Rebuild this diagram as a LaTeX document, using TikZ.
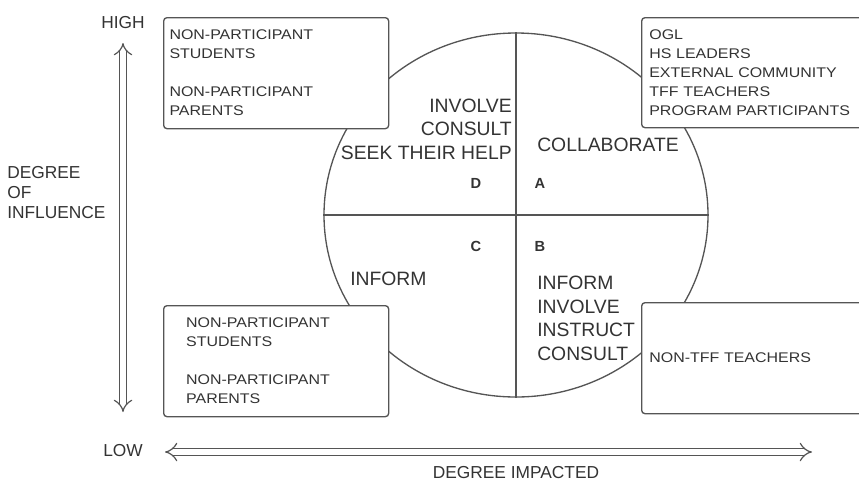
\documentclass[tikz,border=0pt]{standalone}
\usepackage{fontspec}
\setmainfont{Liberation Sans}
\newfontfamily\groupfont[FakeStretch=1.14]{Liberation Sans}
\usetikzlibrary{positioning, shapes.geometric, arrows.meta}
\definecolor{linegrey}{HTML}{555555}
\definecolor{textgrey}{HTML}{333333}

\begin{document}
\begin{tikzpicture}[x=0.75pt, y=-0.75pt,
                group/.style={draw=linegrey, line width=1pt, fill=white, rectangle, rounded corners=2.5pt, anchor=north west, align=left, text=textgrey, font=\groupfont\fontsize{10.5}{14.25}\selectfont},
                action/.style={text=textgrey, font=\fontsize{14.5}{17.6}\selectfont, inner sep=0pt},
                quad/.style={text=textgrey, font=\bfseries\fontsize{11}{13}\selectfont, inner sep=0pt},
                axislabel/.style={text=textgrey, font=\fontsize{13}{15}\selectfont, inner sep=0pt},
                axis/.style={draw=linegrey, line width=0.9pt, double=white, double distance=4pt, {Implies}-{Implies}},
                edge/.style={draw=linegrey, line width=1pt}
            ]
            \useasboundingbox (0,0) rectangle (859,483);

            % Kreis mit Quadranten
            \node[ellipse, draw=linegrey, line width=1pt, minimum width=288pt, minimum height=273pt, inner sep=0pt] (wheel) at (516,215) {};
            \draw[edge] (wheel.north) -- (wheel.south);
            \draw[edge] (wheel.west) -- (wheel.east);

            % Quadranten
            \node[quad] (qd) at (476,183) {D};
            \node[quad] (qa) at (540,183) {A};
            \node[quad] (qc) at (476,246) {C};
            \node[quad] (qb) at (540,246) {B};

            \node[action, align=right, anchor=east] (seek) at (512,129) {INVOLVE\\CONSULT\\SEEK THEIR HELP};
            \node[action, anchor=west] (collab) at (537,145) {COLLABORATE};
            \node[action, anchor=west] (inform) at (350,279) {INFORM};
            \node[action, align=left, anchor=north west] (instruct) at (537,276) {INFORM\\INVOLVE\\INSTRUCT\\CONSULT};

            % Gruppen
            \node[group, minimum width=168.75pt, minimum height=83.25pt, text width=160pt, inner xsep=3pt] (tl) at (163,17) {NON-PARTICIPANT\\STUDENTS\\[14.25pt]NON-PARTICIPANT\\PARENTS};
            \node[group, minimum width=168.75pt, minimum height=83.25pt, text width=135pt, inner xsep=15pt] (bl) at (163,305) {NON-PARTICIPANT\\STUDENTS\\[14.25pt]NON-PARTICIPANT\\PARENTS};
            \node[group, minimum width=166.5pt, minimum height=82.5pt, text width=155pt, inner xsep=5.25pt] (tr) at (641,17) {OGL\\HS LEADERS\\EXTERNAL COMMUNITY\\TFF TEACHERS\\PROGRAM PARTICIPANTS};
            \node[group, minimum width=166.5pt, minimum height=83.25pt, text width=155pt, inner xsep=5.25pt] (br) at (641,302) {NON-TFF TEACHERS};

            % Achsen
            \node[axislabel] (high) at (123,23) {HIGH};
            \node[axislabel] (low) at (123,451) {LOW};
            \node[axislabel, align=left, anchor=west] (influence) at (7,193) {DEGREE\\OF\\INFLUENCE};
            \node[axislabel] (impacted) at (516,473) {DEGREE IMPACTED};

            \coordinate (vtop) at (123,43);
            \coordinate (vbot) at (123,412);
            \coordinate (hleft) at (165,452);
            \coordinate (hright) at (812,452);
            \draw[axis] (vtop) -- (vbot);
            \draw[axis] (hleft) -- (hright);

        \end{tikzpicture}
\end{document}
